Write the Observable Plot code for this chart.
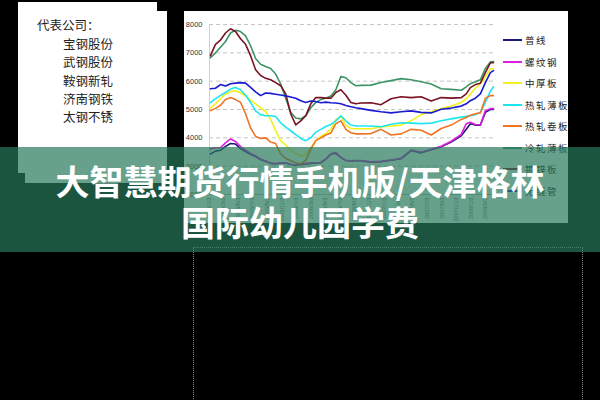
<!DOCTYPE html>
<html><head><meta charset="utf-8">
<script src="https://cdn.jsdelivr.net/npm/d3@7"></script>
<script src="https://cdn.jsdelivr.net/npm/@observablehq/plot@0.6"></script>
<style>
html,body{margin:0;padding:0;background:#000;}
#root{position:relative;width:600px;height:400px;overflow:hidden;background:#000;font-family:"Noto Sans CJK SC","Noto Sans",sans-serif;}
.abs{position:absolute;}
#leftbox{left:18px;top:2px;width:149px;height:171px;background:#fff;}
#leftbox2{left:25px;top:173px;width:142px;height:10px;background:#fff;}
#notch{left:157px;top:2px;width:10px;height:9px;background:#000;}
.co{position:absolute;font-size:12.5px;line-height:16px;color:#222;white-space:nowrap;}
#panel{left:184px;top:11px;width:384px;height:212px;background:#fff;}
#panel svg{position:absolute;left:0;top:0;}
#panel svg [aria-label^="x-axis"] text{font-size:5.5px;fill:#666;}
.lg{position:absolute;left:319px;height:12px;}
.lg .sw{position:absolute;left:0;top:5px;width:19px;height:2px;}
.lg .tx{position:absolute;left:22px;top:-1px;font-size:9.5px;line-height:14px;letter-spacing:1.5px;color:#222;white-space:nowrap;}
#dots{left:193px;top:247px;width:388px;height:170px;border:1px dotted #8a8a8a;}
#banner{left:0;top:147px;width:600px;height:105px;background:rgba(38,121,91,0.70);}
#banner .t{position:absolute;left:0;width:600px;text-align:center;color:#fff;font-weight:700;font-size:34px;line-height:41px;white-space:nowrap;}
</style>
</head><body>
<div id="root">
  <div id="leftbox" class="abs"></div>
  <div id="leftbox2" class="abs"></div>
  <div id="notch" class="abs"></div>
  <div id="companies"></div>
  <div id="panel" class="abs"></div>
  <div id="dots" class="abs"></div>
  <div id="banner" class="abs"></div>
</div>
<script>
// ---- data ----
const companyTitle = "代表公司：";
const companies = ["宝钢股份","武钢股份","鞍钢新轧","济南钢铁","太钢不锈"];
const titleLines = ["大智慧期货行情手机版/天津格林","国际幼儿园学费"];

const seriesNames = ["普线","螺纹钢","中厚板","热轧薄板","热轧卷板","冷轧薄板","镀锌板","无缝管"];
const seriesColors = ["#1c1c78","#e01ee0","#f2f21a","#1ee6f0","#f07424","#3d9467","#7a1222","#1a1ad2"];

const yTicks = [2000,3000,4000,5000,6000,7000,8000];
const xTickLabels = ["2005/1/3","2005/3/3","2005/5/3","2005/7/3","2005/9/3","2005/11/3",
  "2006/1/3","2006/3/3","2006/5/3","2006/7/3","2006/9/3","2006/11/3",
  "2007/1/3","2007/3/3","2007/5/3","2007/7/3","2007/9/3","2007/11/3",
  "2008/1/3","2008/3/3"];

const dates = ["2005-01-07","2005-01-28","2005-02-18","2005-03-11","2005-04-01","2005-04-22","2005-05-13","2005-06-03","2005-06-24","2005-07-15",
  "2005-08-05","2005-08-26","2005-09-16","2005-10-07","2005-10-28","2005-11-18","2005-12-09","2005-12-30","2006-01-20","2006-02-10",
  "2006-03-03","2006-03-24","2006-04-14","2006-05-05","2006-05-26","2006-06-16","2006-07-07","2006-07-28","2006-08-18","2006-09-08",
  "2006-09-29","2006-11-10","2006-12-22","2007-02-02","2007-03-16","2007-04-27","2007-06-08","2007-07-20","2007-08-31","2007-10-12",
  "2007-11-23","2007-12-14","2007-12-31","2008-01-21","2008-02-11","2008-03-03","2008-03-24","2008-04-06"];

const puxian = [3430,3530,3560,3700,3800,3780,3620,3520,3420,3340, 3230,3170,3100,3080,3110,3110,3060,3040,3060,3080,
  3100,3110,3120,3250,3420,3460,3300,3200,3180,3190, 3190,3140,3160,3210,3260,3550,3470,3580,3680,3850,
  4070,4300,4500,4450,4450,4900,5000,5000];
const luowengang = [3610,3650,3650,3820,3960,3870,3690,3560,3450,3360, 3250,3180,3110,3090,3120,3120,3070,3050,3070,3090,
  3110,3120,3130,3260,3440,3480,3310,3210,3190,3200, 3200,3150,3170,3220,3280,3570,3490,3600,3700,3880,
  4120,4500,4550,4470,4460,4960,5030,5030];
const zhonghouban = [5060,5200,5380,5550,5630,5660,5590,5470,5330,5200, 5060,4930,4650,4250,3890,3750,3550,3450,3360,3400,
  3650,3900,4050,4150,4300,4650,4750,4450,4330,4320, 4320,4320,4380,4420,4450,4600,4820,4920,5030,5120,
  5250,5380,5550,5750,5910,6150,6440,6440];
const rezhaBaoban = [5240,5380,5500,5600,5720,5780,5700,5500,5250,4950, 4820,4780,4780,4750,4530,4380,4250,4110,3980,3900,
  4000,4200,4300,4400,4470,4600,4780,4600,4450,4420, 4420,4420,4390,4480,4530,4520,4500,4520,4600,4670,
  4730,4760,4780,4820,4900,5250,5650,5800];
const rezhaJuanban = [4960,5040,5150,5350,5420,5350,5250,4850,4350,4050, 3980,4000,3850,3800,3430,3280,3190,3120,3080,3200,
  3600,3900,4000,4100,4170,4500,4600,4300,4180,4140, 4140,4150,4300,4100,4140,4300,4270,4100,4330,4450,
  4650,4720,4800,4850,4880,5400,5490,5490];
const lengzhaBaoban = [6830,7000,7200,7400,7700,7800,7750,7600,7250,6800, 6600,6520,6450,6250,5900,5400,4900,4700,4670,4780,
  5060,5250,5350,5400,5480,5700,6160,6120,5950,5840, 5850,5860,5950,6020,6090,6050,5980,5900,5730,5710,
  5680,5800,5910,5980,6050,6450,6680,6690];
const duxinban = [6900,7300,7450,7700,7850,7750,7500,7300,6900,6400, 6200,6100,6050,5950,5840,5550,4850,4460,4600,4780,
  5200,5420,5420,5400,5400,5600,5700,5500,5250,5200, 5230,5240,5170,5380,5450,5420,5450,5300,5420,5400,
  5420,5550,5770,5880,5930,6300,6650,6650];
const wufengguan = [5730,5750,5880,5830,5910,5930,5950,5930,5780,5620, 5490,5580,5570,5540,5510,5480,5440,5400,5310,5250,
  5300,5280,5240,5260,5240,5230,5200,5140,5100,5060, 5030,4970,4920,4880,4920,4950,4900,4880,5010,5050,
  5120,5200,5310,5400,5550,5950,6300,6370];

const seriesValues = [puxian,luowengang,zhonghouban,rezhaBaoban,rezhaJuanban,lengzhaBaoban,duxinban,wufengguan];

// ---- build ----
const parseDate = d3.utcParse("%Y-%m-%d");
const parseTick = d3.utcParse("%Y/%m/%d");
const tickDates = xTickLabels.map(parseTick);
const rows = [];
seriesNames.forEach((name, i) => {
  seriesValues[i].forEach((v, j) => rows.push({series: name, date: parseDate(dates[j]), value: v}));
});
const lastDate = parseDate(dates[dates.length - 1]);

// left text box
const comp = document.getElementById("companies");
const t0 = document.createElement("div");
t0.className = "co"; t0.style.left = "37px"; t0.style.top = "17px"; t0.textContent = companyTitle;
comp.appendChild(t0);
companies.forEach((c, i) => {
  const d = document.createElement("div");
  d.className = "co"; d.style.left = "63px"; d.style.top = (36 + i * 18.3) + "px"; d.textContent = c;
  comp.appendChild(d);
});

// chart
const chart = Plot.plot({
  width: 384, height: 212,
  marginLeft: 25, marginRight: 75, marginTop: 13, marginBottom: 29,
  style: {background: "transparent", fontFamily: "'Liberation Sans', Arial, sans-serif", fontSize: "7.5px", color: "#333", overflow: "visible"},
  x: {type: "utc", domain: [tickDates[0], lastDate], ticks: tickDates, tickFormat: d3.utcFormat("%Y/%-m/%-d"),
      tickRotate: -90, tickSize: 0, tickPadding: 3, label: null},
  y: {domain: [yTicks[0], yTicks[yTicks.length - 1]], ticks: yTicks, tickSize: 0, tickPadding: 7, label: null, tickFormat: d => `${d}`},
  color: {domain: seriesNames, range: seriesColors},
  marks: [
    Plot.ruleY(yTicks.slice(1), {stroke: "#c4c4c4", strokeDasharray: "4,3"}),
    Plot.ruleY([yTicks[0]], {stroke: "#bbb"}),
    Plot.ruleX([tickDates[0]], {stroke: "#d0d0d0"}),
    Plot.line(rows, {x: "date", y: "value", z: "series", stroke: "series", strokeWidth: 1.6})
  ]
});
const panel = document.getElementById("panel");
panel.appendChild(chart);

// legend
seriesNames.forEach((name, i) => {
  const item = document.createElement("div");
  item.className = "lg";
  item.style.top = (23 + i * 21.5) + "px";
  const sw = document.createElement("div");
  sw.className = "sw"; sw.style.background = seriesColors[i];
  const tx = document.createElement("div");
  tx.className = "tx"; tx.textContent = name;
  item.appendChild(sw); item.appendChild(tx);
  panel.appendChild(item);
});

// banner
const banner = document.getElementById("banner");
titleLines.forEach((line, i) => {
  const d = document.createElement("div");
  d.className = "t"; d.style.top = (12.5 + i * 41) + "px"; d.textContent = line;
  banner.appendChild(d);
});
</script>
</body></html>
